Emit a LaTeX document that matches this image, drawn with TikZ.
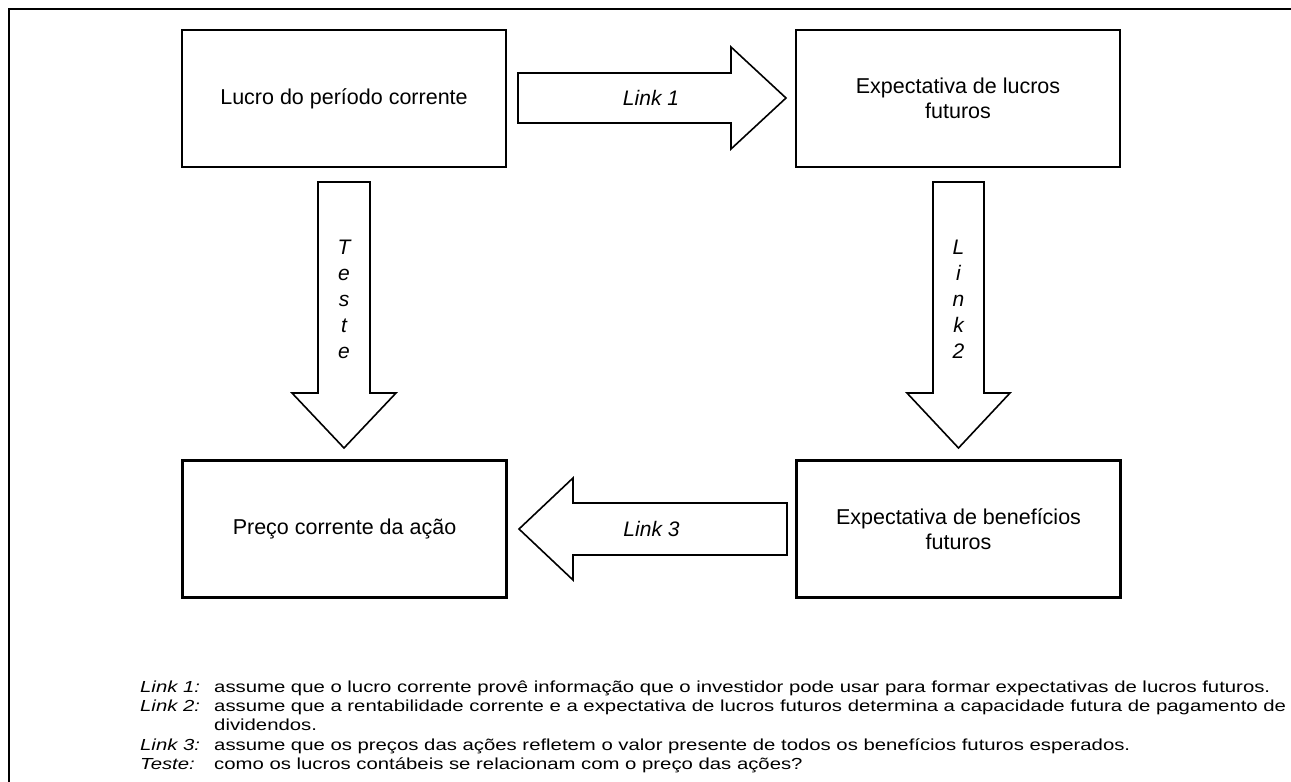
\documentclass[tikz,border=0pt]{standalone}
\usepackage{fontspec}
\setmainfont{Liberation Sans}
\newfontfamily\notefont{Liberation Sans}[FakeStretch=1.27]
\begin{document}
\begin{tikzpicture}[x=1pt,y=-1pt,
  box/.style={draw,line width=2.2pt,minimum width=324pt,minimum height=137pt,align=center,font=\fontsize{21.5}{25}\selectfont,inner sep=0pt},
  bigarrow/.style={draw,line width=1.6pt,fill=white,line join=miter},
  lbl/.style={font=\fontsize{21}{26}\selectfont\itshape,align=center,inner sep=0pt},
  notelbl/.style={anchor=base west,font=\notefont\fontsize{16}{19}\selectfont\itshape,inner sep=0pt},
  note/.style={anchor=base west,font=\notefont\fontsize{16}{19}\selectfont,inner sep=0pt}]
\useasboundingbox (0,0) rectangle (1291,782);
\draw[line width=1.5pt] (9,782) -- (9,9) -- (1291,9);
\node[box] (lucro) at (344,98.5) {Lucro do período corrente};
\node[box] (explucros) at (958,98.5) {Expectativa de lucros\\futuros};
\node[box] (preco) at (344.5,529) {Preço corrente da ação};
\node[box] (expben) at (958.5,529) {Expectativa de benefícios\\futuros};
% Link 1
\draw[bigarrow] (518,73) -- (731,73) -- (731,47) -- (786,98) -- (731,149) -- (731,123) -- (518,123) -- cycle;
\node[lbl] (l1) at (651,98) {Link 1};
% Link 3
\draw[bigarrow] (787,503) -- (573,503) -- (573,478) -- (519,529) -- (573,580) -- (573,555) -- (787,555) -- cycle;
\node[lbl] (l3) at (651.5,529) {Link 3};
% Teste
\draw[bigarrow] (318,182) -- (370,182) -- (370,393) -- (396,393) -- (344,448) -- (292,393) -- (318,393) -- cycle;
\node[lbl] (lt) at (344,299) {T\\e\\s\\t\\e};
% Link 2
\draw[bigarrow] (933,182) -- (984,182) -- (984,393) -- (1010,393) -- (958.5,448) -- (907,393) -- (933,393) -- cycle;
\node[lbl] (l2) at (958.5,299) {L\\i\\n\\k\\2};
% notes
\node[notelbl] (n1l) at (140,692) {Link 1:};
\node[note] (n1) at (214,692) {assume que o lucro corrente provê informação que o investidor pode usar para formar expectativas de lucros futuros.};
\node[notelbl] (n2l) at (140,711) {Link 2:};
\node[note] (n2) at (214,711) {assume que a rentabilidade corrente e a expectativa de lucros futuros determina a capacidade futura de pagamento de};
\node[note] (n2b) at (214,730) {dividendos.};
\node[notelbl] (n3l) at (140,750) {Link 3:};
\node[note] (n3) at (214,750) {assume que os preços das ações refletem o valor presente de todos os benefícios futuros esperados.};
\node[notelbl] (ntl) at (140,769) {Teste:};
\node[note] (nt) at (214,769) {como os lucros contábeis se relacionam com o preço das ações?};
\end{tikzpicture}
\end{document}
